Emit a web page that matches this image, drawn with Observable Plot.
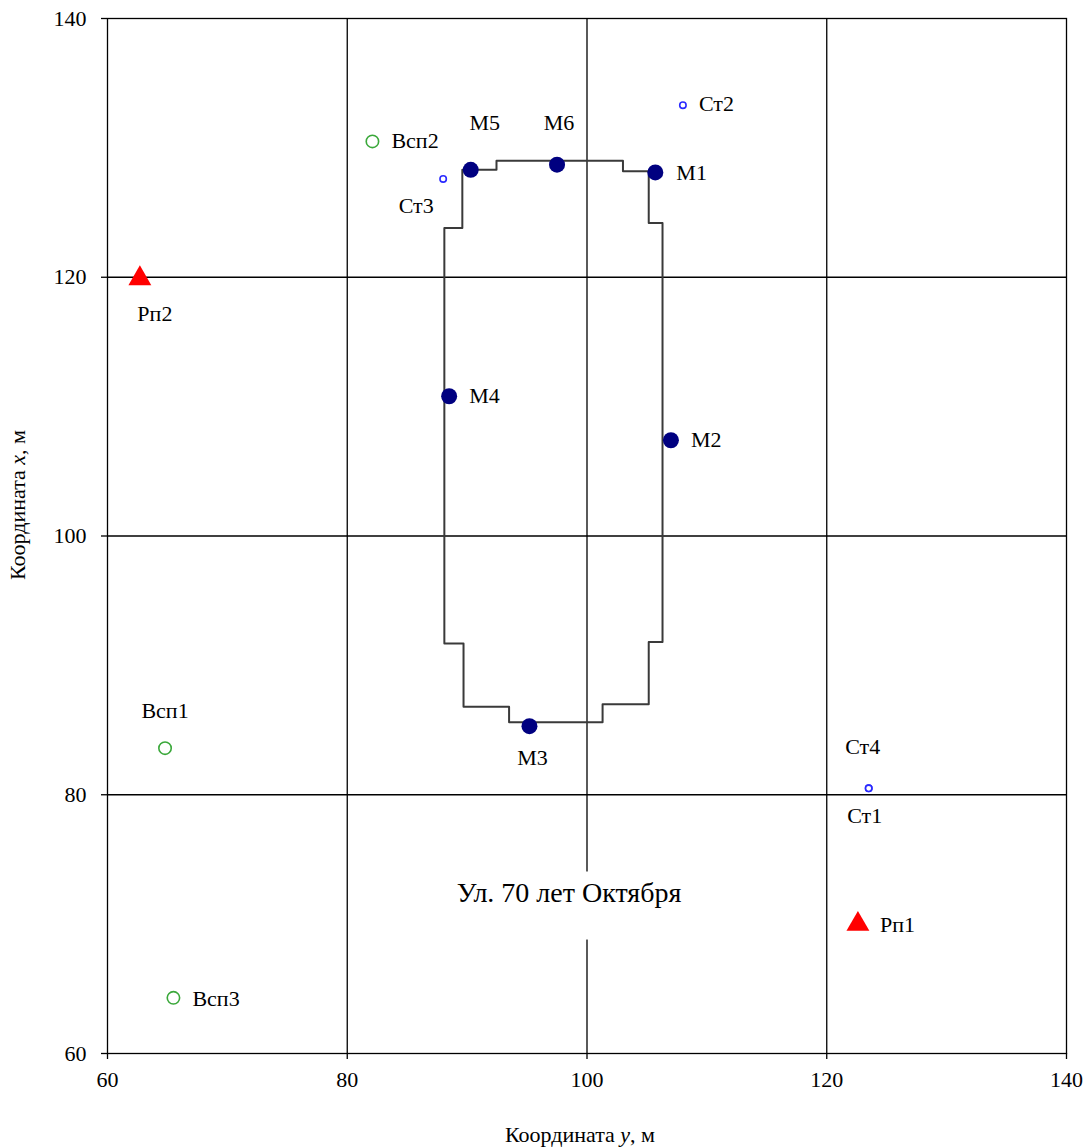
<!DOCTYPE html>
<html>
<head>
<meta charset="utf-8">
<script src="https://cdn.jsdelivr.net/npm/d3@7"></script>
<script src="https://cdn.jsdelivr.net/npm/@observablehq/plot@0.6"></script>
<style>
  html, body { margin: 0; padding: 0; background: #fff; }
  #chart svg { display: block; }
</style>
</head>
<body>
<div id="chart"></div>
<script>
// ---- Data (geodetic convention: y = horizontal, x = vertical) ----
const markNames = ["М1", "М2", "М3", "М4", "М5", "М6"];
const markY = [105.7, 107.0, 95.2, 88.5, 90.3, 97.5];
const markX = [128.1, 107.4, 85.3, 110.8, 128.3, 128.7];

const stationNames = ["Ст1", "Ст2", "Ст3", "Ст4"];
const stationY = [123.5, 108.0, 88.0, 123.5];
const stationX = [80.5, 133.3, 127.6, 80.5];

const auxNames = ["Всп1", "Всп2", "Всп3"];
const auxY = [64.8, 82.1, 65.5];
const auxX = [83.6, 130.5, 64.3];

const benchNames = ["Рп1", "Рп2"];
const benchY = [122.6, 62.7];
const benchX = [70.0, 119.9];

const contourY = [89.6, 92.45, 92.45, 103.0, 103.0, 105.15, 105.15, 106.3, 106.3, 105.15, 105.15, 101.3, 101.3, 93.5, 93.5, 89.7, 89.7, 88.1, 88.1, 89.6, 89.6];
const contourX = [128.3, 128.3, 129.0, 129.0, 128.2, 128.2, 124.2, 124.2, 91.8, 91.8, 87.0, 87.0, 85.6, 85.6, 86.8, 86.8, 91.7, 91.7, 123.8, 123.8, 128.3];

const streetText = ["Ул. 70 лет Октября"];
const streetY = [98.5];
const streetX = [72.4];

const tickValues = [60, 80, 100, 120, 140];
const gridValues = [80, 100, 120];

// ---- Build tables ----
const zip = (names, ys, xs) => names.map((n, i) => ({name: n, y: ys[i], x: xs[i]}));
const marks = zip(markNames, markY, markX);
const stations = zip(stationNames, stationY, stationX);
const aux = zip(auxNames, auxY, auxX);
const bench = zip(benchNames, benchY, benchX);
const contour = contourY.map((v, i) => ({y: v, x: contourX[i]}));
const street = zip(streetText, streetY, streetX);

const FONT = "Liberation Serif, DejaVu Serif, Noto Serif, serif";

// label placement (pixel offsets from the point)
const labelOffset = {
  "М1": [21, 0, "start"], "М2": [20, 0, "start"], "М3": [3, 32, "middle"],
  "М4": [20, 0, "start"], "М5": [14, -47, "middle"], "М6": [2, -42, "middle"],
  "Ст1": [-4, 28, "middle"], "Ст2": [16, -1, "start"], "Ст3": [-27, 27, "middle"], "Ст4": [-6, -41, "middle"],
  "Всп1": [0, -37, "middle"], "Всп2": [19, 0, "start"], "Всп3": [19, 1, "start"],
  "Рп1": [22, 1, "start"], "Рп2": [15, 35, "middle"]
};
const allPoints = [...marks, ...stations, ...aux, ...bench];
const labelMarks = ["start", "middle"].flatMap(anchor => {
  const groups = d3.groups(allPoints.filter(d => labelOffset[d.name][2] === anchor), d => labelOffset[d.name][0] + "," + labelOffset[d.name][1]);
  return groups.map(([, rows]) => Plot.text(rows, {
    x: "y", y: "x", text: "name",
    dx: labelOffset[rows[0].name][0], dy: labelOffset[rows[0].name][1],
    textAnchor: anchor, fill: "black", fontSize: 22, fontFamily: FONT
  }));
});

const W = 1091, H = 1147;
const plot = Plot.plot({
  width: W, height: H,
  marginLeft: 107, marginRight: 25, marginTop: 18, marginBottom: 94,
  style: {background: "white", color: "black", fontFamily: FONT},
  x: {domain: [60, 140], ticks: tickValues},
  y: {domain: [60, 140], ticks: tickValues},
  marks: [
    Plot.ruleX(gridValues, {stroke: "black", strokeWidth: 1.3}),
    Plot.ruleY(gridValues, {stroke: "black", strokeWidth: 1.3}),
    Plot.rect(street, {x1: d => d.y - 10.5, x2: d => d.y + 10.5, y1: d => d.x - 3.63, y2: d => d.x + 1.63, fill: "white"}),
    Plot.frame({stroke: "black", strokeWidth: 1.3}),
    Plot.axisX({ticks: tickValues, tickSize: 6, tickPadding: 12, fontSize: 22, label: null, stroke: "black", strokeWidth: 1.3, fontFamily: FONT}),
    Plot.axisY({ticks: tickValues, tickSize: 6, tickPadding: 15, fontSize: 22, label: null, stroke: "black", strokeWidth: 1.3, fontFamily: FONT}),
    Plot.line(contour, {x: "y", y: "x", stroke: "#3a3a3a", strokeWidth: 2, curve: "linear"}),
    Plot.dot(marks, {x: "y", y: "x", r: 8, fill: "#000080", stroke: "none"}),
    Plot.dot(stations, {x: "y", y: "x", r: 3.2, fill: "white", stroke: "#2a2aff", strokeWidth: 1.6}),
    Plot.dot(aux, {x: "y", y: "x", r: 6.2, fill: "none", stroke: "#3aa83a", strokeWidth: 1.6}),
    Plot.dot(bench, {x: "y", y: "x", r: 8.5, symbol: "triangle", fill: "#ff0000", stroke: "none"}),
    ...labelMarks,
    Plot.text(street, {x: "y", y: "x", text: "name", fontSize: 28, fill: "black", fontFamily: FONT})
  ]
});

const svg = d3.select(plot);
svg.attr("font-family", FONT);
const xt = svg.append("text").attr("x", 580).attr("y", 1137).attr("text-anchor", "middle")
  .attr("dominant-baseline", "middle").attr("font-size", 22).attr("fill", "black");
xt.append("tspan").text("Координата ");
xt.append("tspan").attr("font-style", "italic").text("y");
xt.append("tspan").text(", м");
const yt = svg.append("text").attr("transform", "translate(20,505) rotate(-90)").attr("text-anchor", "middle")
  .attr("dominant-baseline", "middle").attr("font-size", 22).attr("fill", "black");
yt.append("tspan").text("Координата ");
yt.append("tspan").attr("font-style", "italic").text("x");
yt.append("tspan").text(", м");
svg.selectAll("text").attr("font-family", FONT);

document.getElementById("chart").appendChild(plot);
</script>
</body>
</html>
